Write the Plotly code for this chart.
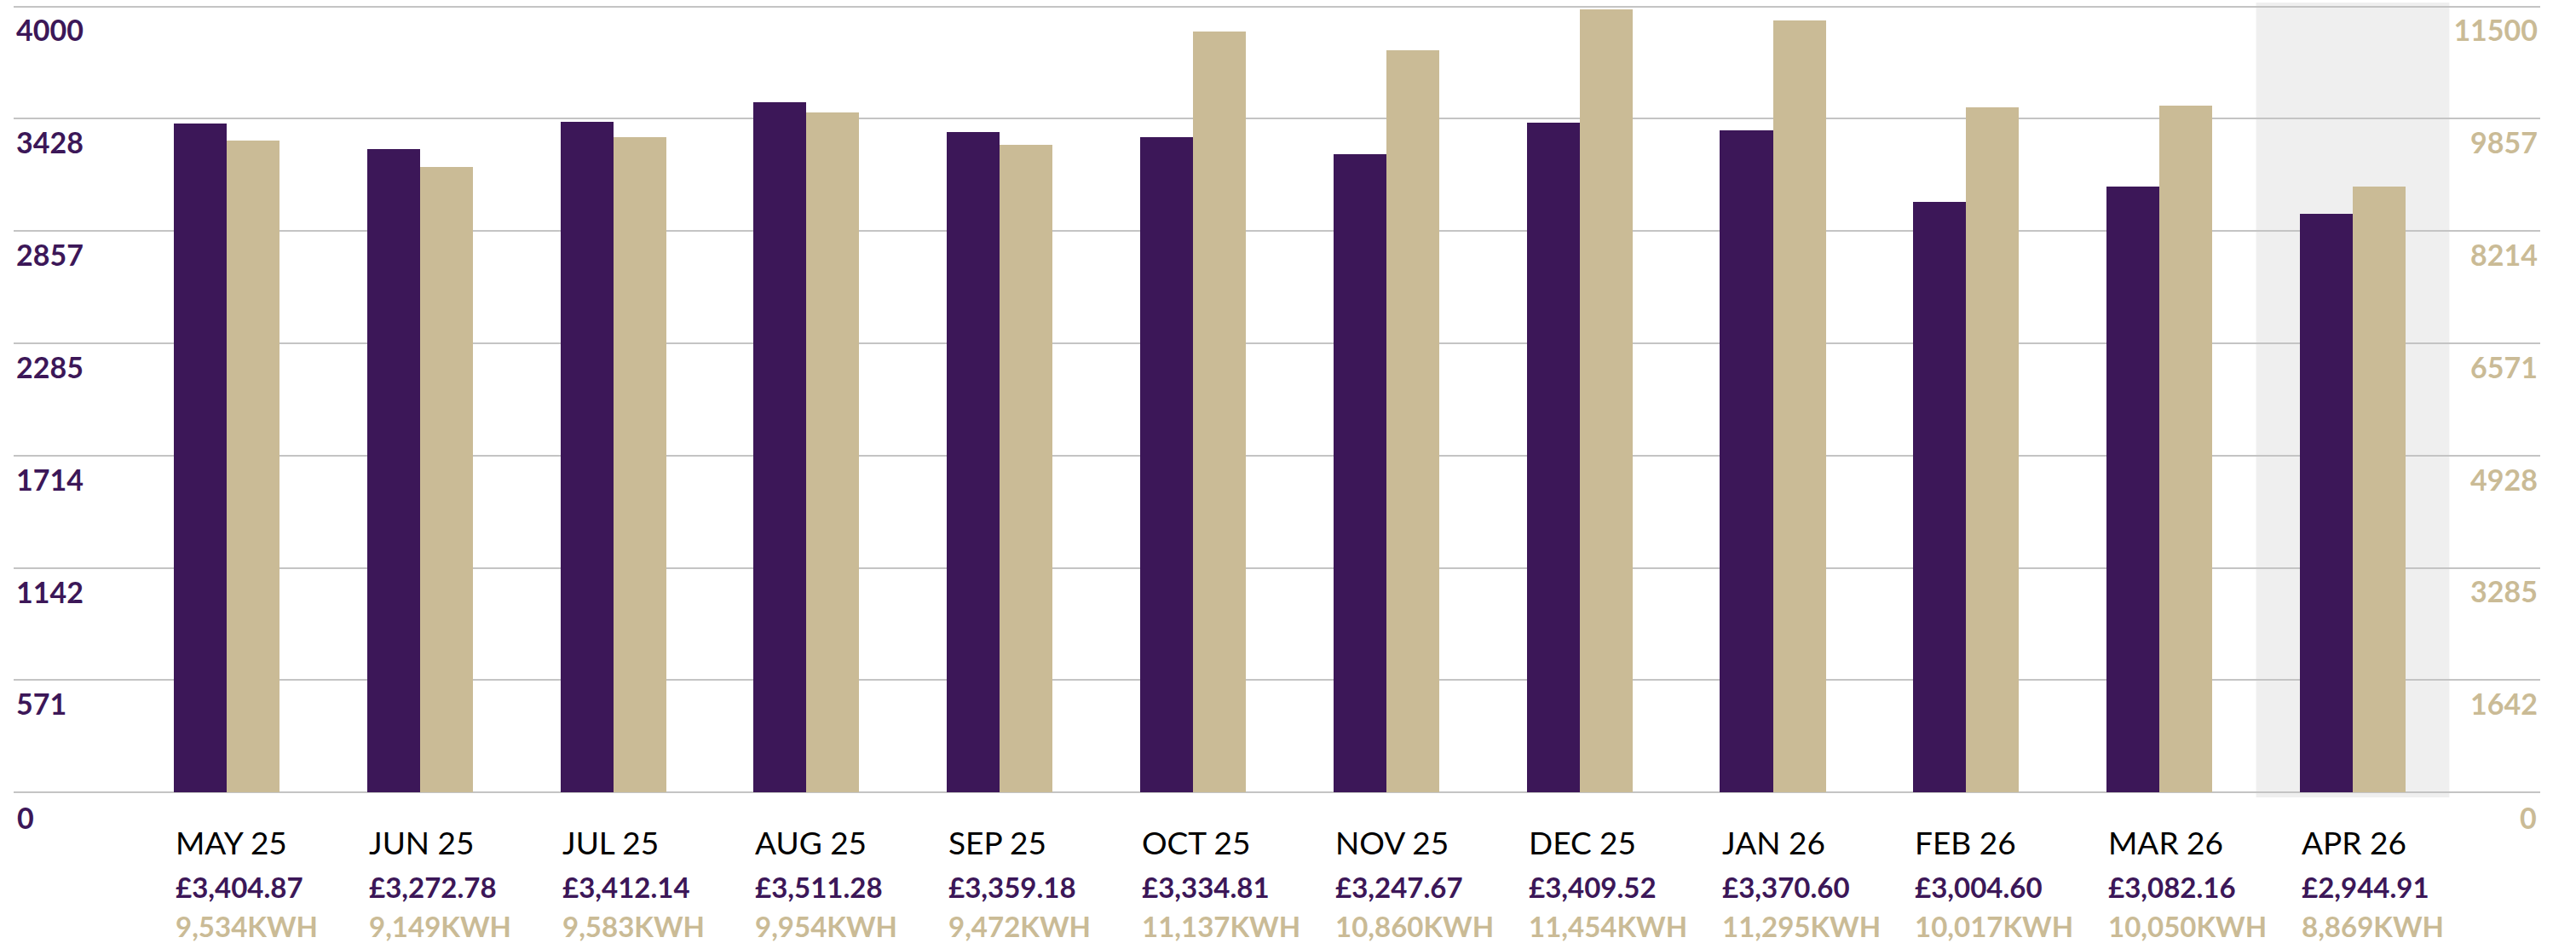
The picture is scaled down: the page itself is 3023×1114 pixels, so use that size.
import plotly.graph_objects as go

months = ["MAY 25", "JUN 25", "JUL 25", "AUG 25", "SEP 25", "OCT 25",
          "NOV 25", "DEC 25", "JAN 26", "FEB 26", "MAR 26", "APR 26"]
cost_gbp = [3404.87, 3272.78, 3412.14, 3511.28, 3359.18, 3334.81,
            3247.67, 3409.52, 3370.60, 3004.60, 3082.16, 2944.91]
usage_kwh = [9534, 9149, 9583, 9954, 9472, 11137,
             10860, 11454, 11295, 10017, 10050, 8869]
left_ticks = [0, 571, 1142, 1714, 2285, 2857, 3428, 4000]
right_ticks = [0, 1642, 3285, 4928, 6571, 8214, 9857, 11500]
highlight_month = "APR 26"

PURPLE = "#3C1758"
GOLD = "#CABB96"
GRID = "#C4C4C4"
HIGHLIGHT = "#EFEFEF"
BOLD_FONT = "Lato"
HALF = 0.2735  # half group width in category units

fig = go.Figure()
fig.add_trace(go.Bar(x=months, y=cost_gbp, marker_color=PURPLE, marker_line_width=0,
                     width=HALF, offset=-HALF, yaxis="y", name="Cost"))
fig.add_trace(go.Bar(x=months, y=usage_kwh, marker_color=GOLD, marker_line_width=0,
                     width=HALF, offset=0, yaxis="y2", name="kWh"))

hi = months.index(highlight_month)
fig.add_shape(type="rect", xref="x", yref="paper", x0=hi - 0.5, x1=hi + 0.5,
              y0=0, y1=1, fillcolor=HIGHLIGHT, line_width=0, layer="below")

ann = []
for m, c, k in zip(months, cost_gbp, usage_kwh):
    common = dict(x=m, xref="x", yref="paper", y=0, xanchor="left", yanchor="middle",
                  xshift=-62, showarrow=False)
    ann.append(dict(text=m, yshift=-52,
                    font=dict(family="Lato", size=37, color="#000000"), **common))
    ann.append(dict(text=f"<b>£{c:,.2f}</b>", yshift=-105,
                    font=dict(family=BOLD_FONT, size=33, color=PURPLE), **common))
    ann.append(dict(text=f"<b>{k:,}KWH</b>", yshift=-151,
                    font=dict(family=BOLD_FONT, size=33, color=GOLD), **common))

# zero labels sit below the plot floor, so draw them as annotations
ann.append(dict(text=f"<b>{left_ticks[0]}</b>", xref="paper", x=0, xanchor="left", xshift=2,
                yref="y", y=left_ticks[0], yanchor="middle", yshift=-29, showarrow=False,
                font=dict(family=BOLD_FONT, size=34, color=PURPLE)))
ann.append(dict(text=f"<b>{right_ticks[0]}</b>", xref="paper", x=1, xanchor="right", xshift=-2,
                yref="y2", y=right_ticks[0], yanchor="middle", yshift=-29, showarrow=False,
                font=dict(family=BOLD_FONT, size=34, color=GOLD)))

ymin, ymax = -26, 4019.5
scale = 11500 / 4000

fig.update_layout(
    width=3023, height=1114,
    margin=dict(l=16, r=42, t=3, b=178),
    paper_bgcolor="white", plot_bgcolor="rgba(0,0,0,0)",
    showlegend=False, bargap=0,
    annotations=ann,
    xaxis=dict(type="category", range=[-1.102, 11.97], showticklabels=False,
               showgrid=False, zeroline=False, ticks=""),
    yaxis=dict(range=[ymin, ymax], tickvals=left_ticks,
               ticktext=[f"<b>{t}</b>" for t in left_ticks],
               ticklabelposition="inside", ticklabelshift=29, ticklabelstandoff=0,
               tickfont=dict(family=BOLD_FONT, size=34, color=PURPLE),
               showgrid=True, gridcolor=GRID, gridwidth=2, zeroline=False, ticks=""),
    yaxis2=dict(range=[ymin * scale, ymax * scale], overlaying="y", side="right",
                tickvals=right_ticks, ticktext=[f"<b>{t}</b>" for t in right_ticks],
                ticklabelposition="inside", ticklabelshift=29, ticklabelstandoff=0,
                tickfont=dict(family=BOLD_FONT, size=34, color=GOLD),
                showgrid=False, zeroline=False, ticks=""),
)

fig.write_html("out.html", config={"displayModeBar": False},
               post_script="document.body.style.margin='0';document.body.style.overflow='hidden';")
